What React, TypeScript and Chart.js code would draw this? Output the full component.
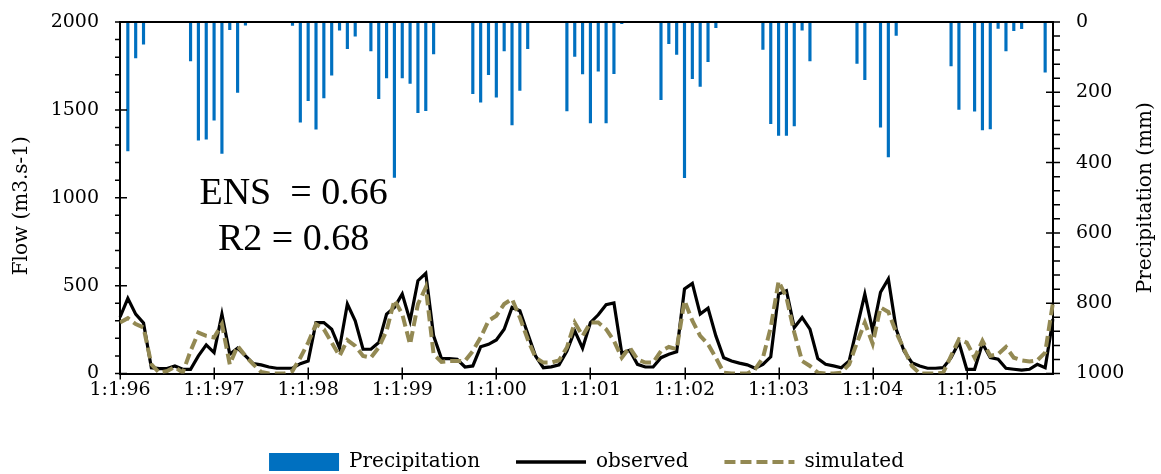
import React, { useEffect, useRef } from 'react';
import { Chart, registerables } from 'chart.js';

Chart.register(...registerables);

// ---------- data ----------
const yearLabels = ['1:1:96', '1:1:97', '1:1:98', '1:1:99', '1:1:00', '1:1:01', '1:1:02', '1:1:03', '1:1:04', '1:1:05'];
const yearCodes = ['96', '97', '98', '99', '00', '01', '02', '03', '04', '05'];

// monthly precipitation (mm)
const precip1996 = [0, 367, 102, 63, 0, 0, 0, 0, 0, 111, 336, 333];
const precip1997 = [279, 374, 22, 200, 9, 0, 0, 0, 0, 0, 10, 285];
const precip1998 = [224, 305, 216, 151, 23, 76, 40, 0, 82, 218, 159, 442];
const precip1999 = [159, 175, 258, 252, 91, 0, 0, 0, 0, 204, 228, 150];
const precip2000 = [214, 82, 293, 195, 76, 0, 0, 0, 0, 253, 98, 148];
const precip2001 = [287, 140, 287, 147, 5, 0, 0, 0, 0, 221, 62, 92];
const precip2002 = [443, 161, 183, 113, 16, 0, 0, 0, 0, 0, 78, 289];
const precip2003 = [323, 323, 296, 23, 111, 0, 0, 0, 0, 0, 118, 164];
const precip2004 = [0, 299, 384, 38, 0, 0, 0, 0, 0, 0, 125, 249];
const precip2005 = [0, 254, 307, 304, 18, 82, 25, 19, 0, 0, 143, 0];

// observed flow (m3/s)
const obs1996 = [320, 428, 338, 287, 33, 28, 28, 43, 24, 24, 100, 163];
const obs1997 = [119, 338, 110, 144, 100, 56, 49, 37, 30, 30, 30, 56];
const obs1998 = [71, 290, 290, 252, 144, 395, 300, 138, 138, 176, 338, 376];
const obs1999 = [452, 300, 528, 570, 214, 85, 85, 81, 37, 43, 152, 166];
const obs2000 = [191, 252, 376, 357, 228, 100, 33, 38, 49, 128, 243, 144];
const obs2001 = [290, 334, 391, 401, 115, 132, 52, 37, 37, 90, 110, 124];
const obs2002 = [481, 513, 338, 372, 214, 90, 71, 59, 49, 30, 52, 95];
const obs2003 = [452, 471, 262, 319, 252, 85, 52, 43, 33, 71, 262, 452];
const obs2004 = [243, 462, 538, 252, 128, 62, 43, 30, 30, 33, 90, 176];
const obs2005 = [24, 24, 171, 90, 81, 30, 24, 19, 24, 52, 33, 310];

// simulated flow (m3/s)
const sim1996 = [290, 315, 281, 262, 52, 5, 14, 37, 5, 128, 233, 214];
const sim1997 = [205, 281, 52, 157, 100, 52, 9, 0, 0, 0, 14, 90];
const sim1998 = [176, 281, 252, 176, 100, 190, 157, 100, 90, 148, 243, 418];
const sim1999 = [338, 166, 395, 490, 110, 66, 71, 71, 71, 128, 205, 300];
const sim2000 = [329, 395, 424, 319, 195, 90, 62, 62, 75, 148, 290, 214];
const sim2001 = [290, 290, 252, 186, 90, 148, 81, 62, 62, 128, 151, 138];
const sim2002 = [414, 300, 214, 167, 90, 5, 0, 0, 0, 24, 90, 262];
const sim2003 = [525, 433, 233, 71, 43, 5, 0, 0, 5, 52, 176, 290];
const sim2004 = [170, 376, 350, 233, 138, 43, 0, 0, 0, 5, 100, 195];
const sim2005 = [176, 90, 186, 100, 110, 151, 90, 75, 68, 75, 119, 405];

const precipitation = [
  ...precip1996, ...precip1997, ...precip1998, ...precip1999, ...precip2000,
  ...precip2001, ...precip2002, ...precip2003, ...precip2004, ...precip2005,
];
const observed = [
  ...obs1996, ...obs1997, ...obs1998, ...obs1999, ...obs2000,
  ...obs2001, ...obs2002, ...obs2003, ...obs2004, ...obs2005,
];
const simulated = [
  ...sim1996, ...sim1997, ...sim1998, ...sim1999, ...sim2000,
  ...sim2001, ...sim2002, ...sim2003, ...sim2004, ...sim2005,
];

const monthLabels = yearCodes.flatMap((yy) =>
  Array.from({ length: 12 }, (_, m) => `1:${m + 1}:${yy}`)
);

const statLines = ['ENS  = 0.66', 'R2 = 0.68'];

const FONT = 'DejaVu Serif';

// ---------- plugins ----------
const axisDecorPlugin = {
  id: 'axisDecor',
  afterDraw(chart: any) {
    const { ctx, chartArea } = chart;
    const { left, right, top, bottom } = chartArea;
    const x = chart.scales.x;
    const y = chart.scales.y;
    const y1 = chart.scales.y1;
    ctx.save();
    ctx.strokeStyle = '#000';
    ctx.lineWidth = 1.5;
    ctx.beginPath();
    for (let i = 0; i < monthLabels.length; i += 12) {
      const px = Math.round(x.getPixelForValue(i)) + 0.25;
      ctx.moveTo(px, bottom - 6);
      ctx.lineTo(px, bottom + 6);
    }
    for (let v = 0; v <= 2000; v += 100) {
      const py = y.getPixelForValue(v);
      const major = v % 500 === 0;
      ctx.moveTo(left - 5, py);
      ctx.lineTo(major ? left + 7 : left, py);
    }
    for (let v = 0; v <= 1000; v += 40) {
      const py = y1.getPixelForValue(v);
      const major = v % 200 === 0;
      ctx.moveTo(major ? right - 7 : right, py);
      ctx.lineTo(right + 7, py);
    }
    ctx.stroke();
    ctx.lineWidth = 2;
    ctx.beginPath();
    ctx.moveTo(left, top);
    ctx.lineTo(right, top);
    ctx.stroke();

    // axis titles
    ctx.fillStyle = '#000';
    ctx.font = `20px "${FONT}"`;
    ctx.textAlign = 'center';
    ctx.textBaseline = 'middle';
    ctx.save();
    ctx.translate(22, (top + bottom) / 2 + 8);
    ctx.rotate(-Math.PI / 2);
    ctx.fillText('Flow (m3.s-1)', 0, 0);
    ctx.restore();
    ctx.save();
    ctx.translate(1146, (top + bottom) / 2);
    ctx.rotate(-Math.PI / 2);
    ctx.fillText('Precipitation (mm)', 0, 0);
    ctx.restore();

    // statistics annotation
    ctx.font = '38px "Liberation Serif"';
    ctx.textBaseline = 'alphabetic';
    const cx = left + 0.186 * (right - left);
    ctx.fillText(statLines[0], cx, y.getPixelForValue(963));
    ctx.fillText(statLines[1], cx, y.getPixelForValue(700));
    ctx.restore();
  },
};

const noPad = (s: any) => {
  s.paddingTop = 0;
  s.paddingBottom = 0;
  s.paddingLeft = 0;
  s.paddingRight = 0;
};

export default function App() {
  const canvasRef = useRef<HTMLCanvasElement | null>(null);

  useEffect(() => {
    const canvas = canvasRef.current;
    if (!canvas) return;
    const legendStyles = [
      { fillStyle: '#0070C0', strokeStyle: '#0070C0', lineWidth: 0, lineDash: [], pointStyle: 'rect' },
      { fillStyle: '#000000', strokeStyle: '#000000', lineWidth: 3.5, lineDash: [], pointStyle: 'line' },
      { fillStyle: '#938953', strokeStyle: '#938953', lineWidth: 4, lineDash: [11, 5], pointStyle: 'line' },
    ];
    const chart = new Chart(canvas, {
      data: {
        labels: monthLabels,
        datasets: [
          {
            type: 'bar',
            label: 'Precipitation',
            data: precipitation,
            yAxisID: 'y1',
            backgroundColor: '#0070C0',
            barThickness: 2.5,
            order: 2,
          },
          {
            type: 'line',
            label: 'observed',
            data: observed,
            yAxisID: 'y',
            borderColor: '#000000',
            borderWidth: 3.2,
            pointRadius: 0,
            tension: 0,
            order: 1,
          },
          {
            type: 'line',
            label: 'simulated',
            data: simulated,
            yAxisID: 'y',
            borderColor: '#938953',
            borderWidth: 4,
            borderDash: [11, 5],
            pointRadius: 0,
            tension: 0,
            order: 0,
          },
        ] as any,
      },
      options: {
        responsive: false,
        animation: false,
        layout: { padding: { top: 22, bottom: -8, left: 0, right: 0 } },
        plugins: {
          tooltip: { enabled: false },
          legend: {
            position: 'bottom',
            fullSize: false,
            labels: {
              usePointStyle: true,
              pointStyleWidth: 70,
              boxHeight: 18,
              padding: 36,
              color: '#000',
              font: { family: FONT, size: 20 },
              generateLabels: (c: any) =>
                c.data.datasets.map((ds: any, i: number) => ({
                  text: ds.label,
                  datasetIndex: i,
                  hidden: false,
                  fontColor: '#000',
                  ...legendStyles[i],
                })),
            },
          },
        },
        scales: {
          x: {
            type: 'category',
            offset: false,
            grid: { display: true, drawOnChartArea: false, drawTicks: false },
            border: { display: true, color: '#000', width: 2 },
            ticks: {
              autoSkip: false,
              maxRotation: 0,
              padding: 5,
              color: '#000',
              font: { family: FONT, size: 19 },
              callback: (_v: any, index: number) => (index % 12 === 0 ? yearLabels[index / 12] : ''),
            },
            afterFit: (s: any) => {
              s.height = 42.5;
              noPad(s);
            },
          },
          y: {
            type: 'linear',
            position: 'left',
            min: 0,
            max: 2000,
            grid: { display: true, drawOnChartArea: false, drawTicks: false },
            border: { display: true, color: '#000', width: 2 },
            ticks: {
              stepSize: 500,
              padding: 21,
              color: '#000',
              font: { family: FONT, size: 19 },
              callback: (v: any) => String(v),
            },
            afterFit: (s: any) => {
              s.width = 120;
              noPad(s);
            },
          },
          y1: {
            type: 'linear',
            position: 'right',
            reverse: true,
            min: 0,
            max: 1000,
            grid: { display: true, drawOnChartArea: false, drawTicks: false },
            border: { display: true, color: '#000', width: 2 },
            ticks: {
              stepSize: 200,
              padding: 23,
              color: '#000',
              font: { family: FONT, size: 19 },
              callback: (v: any) => String(v),
            },
            afterFit: (s: any) => {
              s.width = 108;
              noPad(s);
            },
          },
        },
      } as any,
      plugins: [axisDecorPlugin],
    });
    return () => chart.destroy();
  }, []);

  return (
    <div style={{ width: 1161, height: 474 }}>
      <style>{'body{margin:0;}'}</style>
      <canvas ref={canvasRef} width={1161} height={474} style={{ display: 'block' }} />
    </div>
  );
}
